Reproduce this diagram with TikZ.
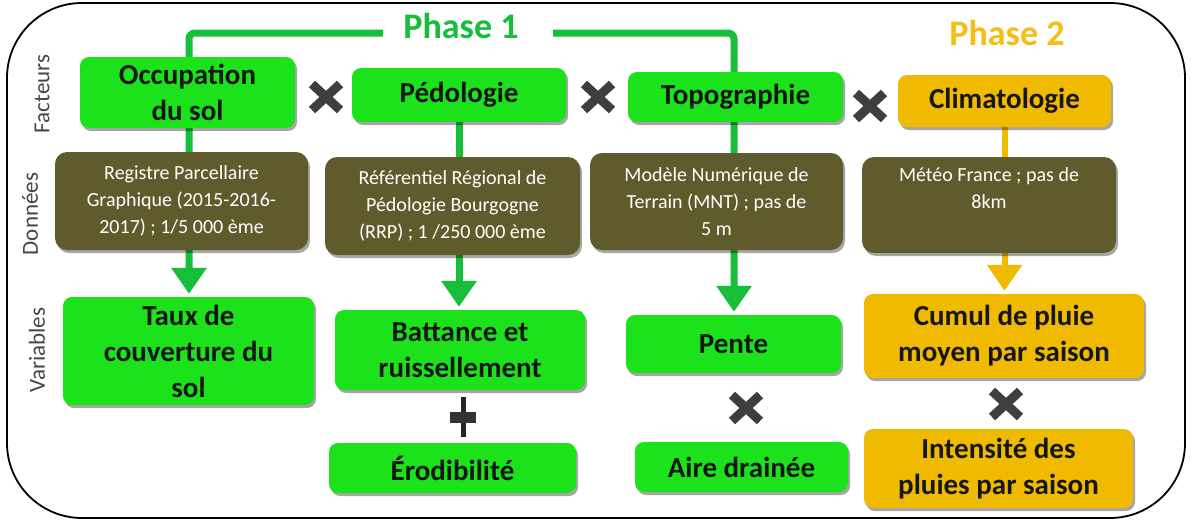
\documentclass[tikz,border=0pt]{standalone}
\usepackage{fontspec}
\setmainfont{Carlito}
\usetikzlibrary{arrows.meta,shadows}
\definecolor{gfill}{RGB}{28,226,28}
\definecolor{glinec}{RGB}{22,190,58}
\definecolor{yfill}{RGB}{240,186,0}
\definecolor{ytext}{RGB}{245,190,20}
\definecolor{olivec}{RGB}{96,91,44}
\definecolor{txt}{RGB}{22,22,22}
\definecolor{crossc}{RGB}{62,62,62}
\definecolor{sidec}{RGB}{70,70,70}
\pgfdeclarelayer{bg}
\pgfsetlayers{bg,main}
\tikzset{
  shad/.style={drop shadow={shadow xshift=2pt,shadow yshift=-3pt,opacity=0.35,fill=black}},
  box/.style={shad,rounded corners=9pt,align=center,inner sep=0pt,text=txt,
    font=\bfseries\fontsize{29}{36}\selectfont},
  gbox/.style={box,fill=gfill},
  ybox/.style={box,fill=yfill},
  dbox/.style={shad,rounded corners=12pt,fill=olivec,text=white,align=center,inner sep=0pt,
    font=\fontsize{20}{27}\selectfont},
  sidelab/.style={rotate=90,text=sidec,font=\fontsize{23}{23}\selectfont},
  phase/.style={font=\bfseries\fontsize{36}{36}\selectfont},
  gl/.style={draw=glinec,line width=7pt,rounded corners=6pt},
  yl/.style={draw=yfill,line width=6pt},
  tipg/.style={-{Triangle[width=34pt,length=26pt]},shorten >=3pt},
  mult/.pic={\draw[crossc,line width=9pt] (-14,-13) -- (14,13) (-14,13) -- (14,-13);},
  plus/.pic={\draw[black!85,line width=5pt] (0,-20) -- (0,20);
             \draw[black!80,line width=11pt] (-13,0) -- (13,0);}
}
\begin{document}
\begin{tikzpicture}[x=1pt,y=-1pt]
\useasboundingbox (0,0) rectangle (1193,525);
\begin{pgfonlayer}{bg}
\fill[white] (0,0) rectangle (1193,525);
\end{pgfonlayer}
\draw[line width=1.8pt,rounded corners=75pt] (7,3) rectangle (1185,518);

% phase labels
\node[phase,text=glinec] (ph1) at (461,26) {Phase 1};
\node[phase,text=ytext] (ph2) at (1007,33) {Phase 2};

% side labels
\node[sidelab] (lf) at (42,94) {Facteurs};
\node[sidelab] (ld) at (30,214) {Données};
\node[sidelab] (lv) at (37,350) {Variables};

% factors
\node[gbox,minimum width=215pt,minimum height=71pt] (occ) at (187.5,92.5) {Occupation\\du sol};
\node[gbox,minimum width=214pt,minimum height=54pt] (ped) at (459,95) {Pédologie};
\node[gbox,minimum width=215pt,minimum height=50pt] (topo) at (735.5,97) {Topographie};
\node[ybox,minimum width=213pt,minimum height=52pt] (clim) at (1004.5,101) {Climatologie};

% data
\node[dbox,minimum width=253pt,minimum height=98pt] (d1) at (181.5,201) {Registre Parcellaire\\Graphique (2015-2016-\\2017) ; 1/5 000 ème};
\node[dbox,minimum width=255pt,minimum height=98pt] (d2) at (452.5,206) {Référentiel Régional de\\Pédologie Bourgogne\\(RRP) ; 1 /250 000 ème};
\node[dbox,minimum width=253pt,minimum height=97pt] (d3) at (716.5,201.5) {Modèle Numérique de\\Terrain (MNT) ; pas de\\5 m};
\node[dbox,minimum width=254pt,minimum height=96pt] (d4) at (989,205) {Météo France ; pas de\\8km\\[6pt]};

% variables
\node[gbox,minimum width=251pt,minimum height=108pt] (taux) at (188.5,351) {Taux de\\couverture du\\sol};
\node[gbox,minimum width=250pt,minimum height=80pt] (batt) at (460,350) {Battance et\\ruissellement};
\node[gbox,minimum width=215pt,minimum height=58pt] (pente) at (733.5,344) {Pente};
\node[ybox,minimum width=280pt,minimum height=84pt] (cumul) at (1004,336) {Cumul de pluie\\moyen par saison};
\node[gbox,minimum width=247pt,minimum height=50pt] (ero) at (452.5,468) {Érodibilité};
\node[gbox,minimum width=213pt,minimum height=50pt] (aire) at (741.5,467) {Aire drainée};
\node[ybox,minimum width=269pt,minimum height=79pt] (inten) at (998.5,468.5) {Intensité des\\pluies par saison};

% operators
\pic at (326,97) {mult};
\pic at (598,97) {mult};
\pic at (870,106) {mult};
\pic at (746,408) {mult};
\pic at (1006,404) {mult};
\pic at (463,417) {plus};

% connectors
\coordinate (g0) at (189,33);
\coordinate (g1) at (383,33);
\coordinate (g2) at (553,33);
\coordinate (g3) at (734,33);
\begin{pgfonlayer}{bg}
\draw[gl,tipg,glinec] (g1) -- (g0) -- (taux.north -| g0);
\draw[gl,tipg,glinec] (ped.south) -- (ped.south |- batt.north);
\draw[gl,tipg,glinec] (g2) -- (g3) -- (g3 |- pente.north);
\draw[yl,tipg,yfill] (clim.south) -- (clim.south |- cumul.north);
\end{pgfonlayer}
\end{tikzpicture}
\end{document}
